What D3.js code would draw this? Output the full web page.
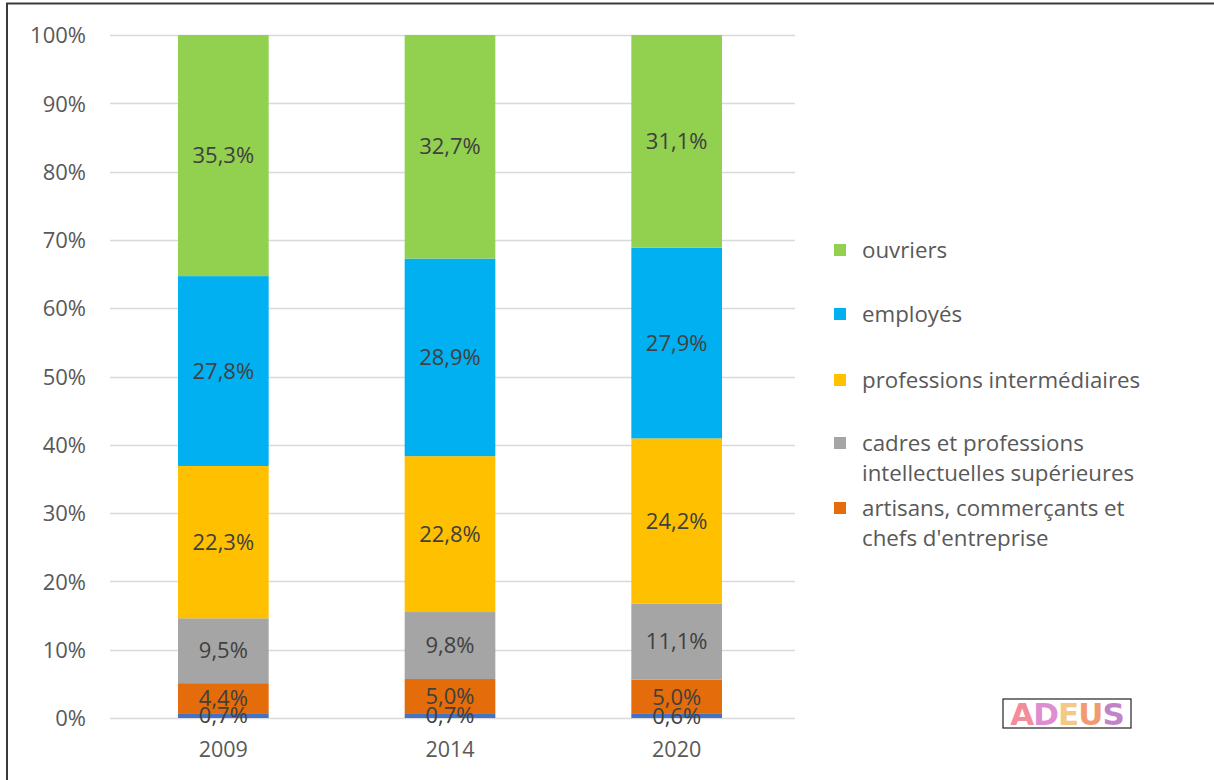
<!DOCTYPE html>
<html><head><meta charset="utf-8">
<script src="https://cdn.jsdelivr.net/npm/d3@7"></script>
<style>body{margin:0;background:#fff}svg{display:block}</style>
</head><body>
<svg id="c" width="1214" height="780"></svg>
<script>
const years = ["2009", "2014", "2020"];
const seriesNames = ["agriculteurs", "artisans", "cadres", "professions", "employes", "ouvriers"];
const agriculteurs = [0.7, 0.7, 0.6];
const artisans = [4.4, 5.0, 5.0];
const cadres = [9.5, 9.8, 11.1];
const professions = [22.3, 22.8, 24.2];
const employes = [27.8, 28.9, 27.9];
const ouvriers = [35.3, 32.7, 31.1];
const colors = ["#4472C4", "#E46C0A", "#A5A5A5", "#FFC000", "#00B0F0", "#92D050"];
const yTicks = [0, 0.1, 0.2, 0.3, 0.4, 0.5, 0.6, 0.7, 0.8, 0.9, 1.0];
const legendItems = [
  {name: "ouvriers", lines: ["ouvriers"], color: "#92D050"},
  {name: "employes", lines: ["employés"], color: "#00B0F0"},
  {name: "professions", lines: ["professions intermédiaires"], color: "#FFC000"},
  {name: "cadres", lines: ["cadres et professions", "intellectuelles supérieures"], color: "#A5A5A5"},
  {name: "artisans", lines: ["artisans, commerçants et", "chefs d'entreprise"], color: "#E46C0A"}
];
const legendY = [250, 314, 380, 443, 508];

const seriesData = {agriculteurs, artisans, cadres, professions, employes, ouvriers};
const table = years.map((y, i) => {
  const row = {year: y};
  seriesNames.forEach(s => row[s] = seriesData[s][i]);
  return row;
});

const svg = d3.select("#c");
const font = "'Open Sans', Lato, sans-serif";
const textColor = "#595959";

// frame
svg.append("path").attr("d", "M7,780 L7,3.5 L1214,3.5").attr("fill", "none").attr("stroke", "#3a3a3a").attr("stroke-width", 2);

const x = d3.scaleBand().domain(years).range([110, 790]).paddingInner(0.6).paddingOuter(0.3);
const y = d3.scaleLinear().domain([0, 1]).range([718, 35]);

// gridlines
svg.append("g").selectAll("line").data(yTicks).join("line")
  .attr("x1", 110).attr("x2", 795)
  .attr("y1", d => Math.round(y(d)) + 0.5).attr("y2", d => Math.round(y(d)) + 0.5)
  .attr("stroke", "#d9d9d9").attr("stroke-width", 1.5);

// y axis
const yAxis = svg.append("g").attr("transform", "translate(86,0)")
  .call(d3.axisLeft(y).tickValues(yTicks).tickFormat(d3.format(".0%")).tickSize(0).tickPadding(0));
yAxis.select(".domain").remove();
yAxis.selectAll("text").attr("font-family", font).attr("font-size", 22).attr("fill", textColor).attr("dy", "0.35em");

// x axis
const xAxis = svg.append("g").attr("transform", "translate(0,718)")
  .call(d3.axisBottom(x).tickSize(0).tickPadding(22));
xAxis.select(".domain").remove();
xAxis.selectAll("text").attr("font-family", font).attr("font-size", 21.5).attr("fill", textColor).attr("dy", "0.71em").attr("y", 24);

const stack = d3.stack().keys(seriesNames).offset(d3.stackOffsetExpand);
const stacked = stack(table);

const g = svg.append("g");
stacked.forEach((layer, li) => {
  g.selectAll(null).data(layer).join("rect")
    .attr("x", d => x(d.data.year))
    .attr("width", x.bandwidth())
    .attr("y", d => y(d[1]))
    .attr("height", d => y(d[0]) - y(d[1]))
    .attr("fill", colors[li]);
});
stacked.forEach((layer, li) => {
  g.selectAll(null).data(layer).join("text")
    .attr("x", d => x(d.data.year) + x.bandwidth() / 2)
    .attr("y", d => (y(d[0]) + y(d[1])) / 2)
    .attr("dy", "0.35em")
    .attr("text-anchor", "middle")
    .attr("font-family", font).attr("font-size", 22).attr("fill", "#404040")
    .text(d => d3.format(".1f")(d.data[layer.key]).replace(".", ",") + "%");
});

// legend
const lg = svg.append("g");
legendItems.forEach((it, i) => {
  const ly = legendY[i];
  lg.append("rect").attr("x", 834).attr("y", ly - 6).attr("width", 12).attr("height", 12).attr("fill", it.color);
  it.lines.forEach((ln, j) => {
    lg.append("text").attr("x", 862).attr("y", ly + j * 30).attr("dy", "0.35em")
      .attr("font-family", font).attr("font-size", 22.3).attr("fill", textColor).text(ln);
  });
});

// logo
const logo = svg.append("g");
logo.append("rect").attr("x", 1003).attr("y", 699).attr("width", 128).attr("height", 29).attr("fill", "#fff").attr("stroke", "#222").attr("stroke-width", 1.2);
const letters = [["A", "#F27A8A"], ["D", "#D97AC8"], ["E", "#F2C070"], ["U", "#F08A5A"], ["S", "#B86FC0"]];
const lt = logo.append("text").attr("x", 1067).attr("y", 714).attr("dy", "0.36em").attr("text-anchor", "middle")
  .attr("font-family", "'DejaVu Sans', sans-serif").attr("font-weight", "bold").attr("font-size", 31).attr("letter-spacing", -1);
letters.forEach(([c, col]) => lt.append("tspan").attr("fill", col).attr("opacity", 0.85).text(c));
</script>
</body></html>
